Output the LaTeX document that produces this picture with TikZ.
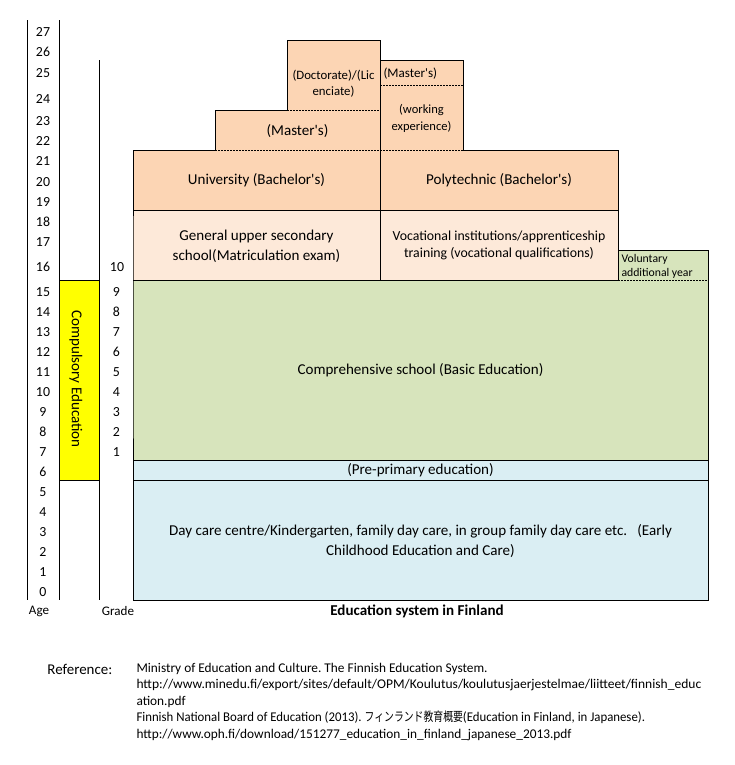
\documentclass[tikz,border=0pt]{standalone}
\usepackage{graphicx}
\usepackage{fontspec}
\setmainfont{Carlito}
\newfontfamily\jpfont{Noto Sans CJK JP}
\definecolor{peach}{HTML}{FCD5B4}
\definecolor{lpeach}{HTML}{FDE9D9}
\definecolor{olivel}{HTML}{D7E4BC}
\definecolor{aqual}{HTML}{DAEEF3}
\definecolor{yell}{HTML}{FFFF00}
\newcommand\ap{\textquotesingle}
\begin{document}
\frenchspacing
\begin{tikzpicture}[x=0.75pt,y=-0.75pt,line width=0.75pt,
  dsh/.style={dash pattern=on 1.5pt off 0.75pt},
  big/.style={inner sep=0pt,align=center,font=\fontsize{11.3}{15}\selectfont},
  num/.style={inner sep=0pt,font=\fontsize{10.4}{12}\selectfont},
  lab/.style={inner sep=0pt,font=\fontsize{9.8}{12}\selectfont},
  refl/.style={inner sep=0pt,anchor=west,font=\fontsize{10}{12}\selectfont}]
\useasboundingbox (0,0) rectangle (735,765);
\fill[white] (0,0) rectangle (735,765);
% fills
\fill[peach] (287,40) rectangle (380,110);
\fill[peach] (215,110) rectangle (380,150);
\fill[peach] (380,60) rectangle (463,150);
\fill[peach] (133,150) rectangle (618,210);
\fill[lpeach] (133,210) rectangle (618,280);
\fill[olivel] (618,250) rectangle (708,280);
\fill[olivel] (133,280) rectangle (708,460);
\fill[aqual] (133,460) rectangle (708,600);
\fill[yell] (59,280) rectangle (99,480);
% solid outlines
\draw (133,280) -- (133,150) -- (215,150) -- (215,110) -- (287,110) -- (287,40)
  -- (380,40) -- (380,60) -- (463,60) -- (463,150) -- (618,150) -- (618,250)
  -- (708,250) -- (708,600) -- (133,600) -- cycle;
\draw (380,40) -- (380,280);
\draw (133,210) -- (618,210);
\draw (133,280) -- (618,280);
\draw (618,250) -- (618,280);
\draw (133,460) -- (708,460);
\draw (133,480) -- (708,480);
% dashed
\draw[dsh] (287,110) -- (380,110);
\draw[dsh] (215,150) -- (463,150);
\draw[dsh] (380,85) -- (463,85);
\draw[dsh] (618,280) -- (708,280);
% axes
\draw (27,20) -- (27,600);
\draw (59,20) -- (59,600);
\draw (99,60) -- (99,600);
\draw (59,280) -- (99,280);
\draw (59,480) -- (99,480);
% age labels
\foreach \a/\yy in {27/31.7,26/51.7,25/73.3,24/99,23/121,22/141,21/161,20/181.7,19/201.7,18/221.7,17/241.7,16/266.7}
  \node[num,name=age\a] at (43,\yy) {\a};
\foreach \a in {0,...,15}
  \node[num,name=age\a] at (43,{291.7+(15-\a)*20}) {\a};
% grade labels
\node[num,name=grade10] at (117,266.7) {10};
\foreach \g in {1,...,9}
  \node[num,name=grade\g] at (116.5,{291.7+(9-\g)*20}) {\g};
\node[big,rotate=-90] (comp) at (76,379) {Compulsory Education};
% box texts
\node[inner sep=0pt,align=center,font=\fontsize{9.6}{11.8}\selectfont] (doc) at (333.5,84) {(Doctorate)/(Lic\\enciate)};
\node[inner sep=0pt,anchor=west,font=\fontsize{9.8}{12}\selectfont] (mas2) at (383,73.5) {(Master\ap s)};
\node[inner sep=0pt,align=center,font=\fontsize{9.4}{12.5}\selectfont] (work) at (421.5,118.5) {(working\\experience)};
\node[big] (mas1) at (297.5,131) {(Master\ap s)};
\node[big] (uni) at (256.5,180.5) {University (Bachelor\ap s)};
\node[big] (poly) at (499,180.5) {Polytechnic (Bachelor\ap s)};
\node[big] (gen) at (256.5,246) {General upper secondary\\school(Matriculation exam)};
\node[inner sep=0pt,align=center,font=\fontsize{10.35}{12.75}\selectfont] (voc) at (499,245.5) {Vocational institutions/apprenticeship\\training (vocational qualifications)};
\node[inner sep=0pt,align=left,anchor=west,font=\fontsize{8.8}{10.5}\selectfont] (vol) at (621,266) {Voluntary\\additional year};
\node[big] (compr) at (420.5,370) {Comprehensive school (Basic Education)};
\node[big] (pre) at (420.5,470.5) {(Pre-primary education)};
\node[big] (day) at (420.5,541) {Day care centre/Kindergarten, family day care, in group family day care etc.\ \ \ (Early\\Childhood Education and Care)};
% bottom labels
\node[lab] (age) at (39,611) {Age};
\node[lab] (grade) at (118,611) {Grade};
\node[big,font=\fontsize{11.3}{15}\selectfont\bfseries] (title) at (417,611) {Education system in Finland};
% reference
\node[inner sep=0pt,anchor=west,font=\fontsize{11.2}{13}\selectfont] (refh) at (47,669.5) {Reference:};
\node[refl] (r1) at (136,668.5) {Ministry of Education and Culture. The Finnish Education System.};
\node[refl] (r2) at (136,685) {\scalebox{1.015}[1]{http://www.minedu.fi/export/sites/default/OPM/Koulutus/koulutusjaerjestelmae/liitteet/finnish\_educ}};
\node[refl] (r3) at (136,701.5) {ation.pdf};
\node[refl] (r4) at (136,717.5) {\scalebox{0.96}[1]{Finnish National Board of Education (2013). \scalebox{0.81}[1]{\jpfont\fontsize{9.5}{12}\selectfont フィンランド教育概要}(Education in Finland, in Japanese).}};
\node[refl] (r5) at (136,735.5) {http://www.oph.fi/download/151277\_education\_in\_finland\_japanese\_2013.pdf};
\end{tikzpicture}
\end{document}
